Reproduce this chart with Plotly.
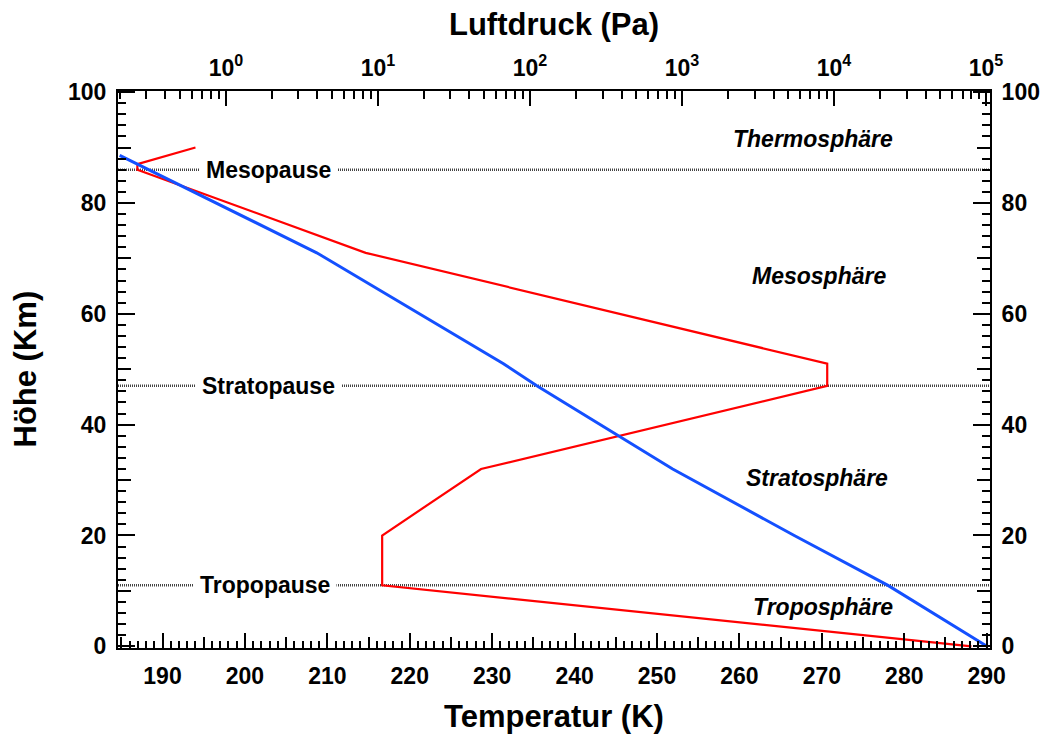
import plotly.graph_objects as go

# ---------------- data ----------------
# temperature profile (K) vs altitude (km)
temp_K = [288.15, 216.65, 216.65, 228.65, 270.65, 270.65, 214.65, 186.95, 186.95, 194.0]
temp_h = [0, 11, 20, 32, 47, 51, 71, 86, 87, 90]
# pressure profile (Pa) vs altitude (km)
pres_Pa = [101325, 22632, 5474.9, 868.0, 110.9, 66.94, 3.956, 0.2]
pres_h = [0, 11, 20, 32, 47, 51, 71, 88.6]

pause_names = ["Tropopause", "Stratopause", "Mesopause"]
pause_h = [11, 47, 86]
pause_label_T = [202.4, 202.8, 202.9]

layer_names = ["Troposphäre", "Stratosphäre", "Mesosphäre", "Thermosphäre"]
layer_T = [270.1, 269.4, 269.7, 268.9]
layer_h = [7.1, 30.4, 66.8, 91.6]

temp_ticks = list(range(190, 291, 10))
temp_mid_ticks = list(range(185, 291, 10))
temp_minor = list(range(185, 291, 1))
pres_ticks = [1, 10, 100, 1000, 10000, 100000]
pres_ticktext = ["10<sup>0</sup>", "10<sup>1</sup>", "10<sup>2</sup>",
                 "10<sup>3</sup>", "10<sup>4</sup>", "10<sup>5</sup>"]
pres_minor = [k * 10 ** n for n in range(-1, 5) for k in range(2, 10)]
h_ticks = list(range(0, 101, 20))
h_mid_ticks = list(range(10, 100, 20))
h_minor = list(range(0, 101, 2))

# ---------------- figure ----------------
FONT = "Liberation Sans"
tickfont = dict(family=FONT, size=23, color="black", weight="bold")
XR = [184.6, 290.4]
YR = [-0.3, 100.2]
LOGR = [-0.71, 5.026]

fig = go.Figure()
fig.add_trace(go.Scatter(x=temp_K, y=temp_h, mode="lines",
                         line=dict(color="#ff0000", width=2.2),
                         xaxis="x", yaxis="y", showlegend=False, hoverinfo="skip"))
fig.add_trace(go.Scatter(x=pres_Pa, y=pres_h, mode="lines",
                         line=dict(color="#1450ff", width=3),
                         xaxis="x2", yaxis="y", showlegend=False, hoverinfo="skip"))
# dummy traces to activate tick-only axes
for xa, ya in [("x3", "y"), ("x", "y2"), ("x", "y3"), ("x", "y4")]:
    fig.add_trace(go.Scatter(x=[None], y=[None], xaxis=xa, yaxis=ya,
                             showlegend=False, hoverinfo="skip"))

common = dict(showgrid=False, zeroline=False, ticks="inside", tickcolor="black",
              tickwidth=2, linecolor="black", linewidth=2, automargin=False)

fig.update_layout(
    width=1041, height=735,
    margin=dict(l=118, r=51, t=91, b=87, autoexpand=False),
    paper_bgcolor="white", plot_bgcolor="white",
    xaxis=dict(range=XR, tickmode="array", tickvals=temp_ticks, ticklen=15,
               showline=True, tickfont=tickfont, ticklabelstandoff=6,
               minor=dict(tickmode="array", tickvals=temp_minor, ticklen=7,
                          tickwidth=2, tickcolor="black", ticks="inside"),
               **common),
    xaxis3=dict(range=XR, overlaying="x", side="bottom", anchor="y",
                tickmode="array", tickvals=temp_mid_ticks, ticklen=11,
                showticklabels=False, showline=False, **common),
    xaxis2=dict(type="log", range=LOGR, overlaying="x", side="top", anchor="y",
                tickmode="array", tickvals=pres_ticks, ticktext=pres_ticktext,
                ticklen=15, showline=True, tickfont=tickfont, ticklabelstandoff=4,
                minor=dict(tickmode="array", tickvals=pres_minor, ticklen=8,
                           tickwidth=2, tickcolor="black", ticks="inside"),
                **common),
    yaxis=dict(range=YR, tickmode="array", tickvals=h_ticks, ticklen=17,
               showline=True, tickfont=tickfont, ticklabelstandoff=5,
               minor=dict(tickmode="array", tickvals=h_minor, ticklen=8,
                          tickwidth=2, tickcolor="black", ticks="inside"),
               **common),
    yaxis3=dict(range=YR, overlaying="y", side="left", anchor="x",
                tickmode="array", tickvals=h_mid_ticks, ticklen=13,
                showticklabels=False, showline=False, **common),
    yaxis2=dict(range=YR, overlaying="y", side="right", anchor="x",
                tickmode="array", tickvals=h_ticks, ticklen=17,
                showline=True, tickfont=tickfont, ticklabelstandoff=5,
                minor=dict(tickmode="array", tickvals=h_minor, ticklen=8,
                           tickwidth=2, tickcolor="black", ticks="inside"),
                **common),
    yaxis4=dict(range=YR, overlaying="y", side="right", anchor="x",
                tickmode="array", tickvals=h_mid_ticks, ticklen=13,
                showticklabels=False, showline=False, **common),
)

labelfont = dict(family=FONT, size=23, color="black", weight="bold")

# pause lines (dotted) with labels
for name, h, t in zip(pause_names, pause_h, pause_label_T):
    fig.add_shape(type="line", xref="paper", x0=0, x1=1, yref="y", y0=h, y1=h,
                  line=dict(color="#444444", width=2.5, dash="1px,1px"), layer="below")
    fig.add_annotation(x=t, y=h, xref="x", yref="y", text=name, showarrow=False,
                       font=labelfont, bgcolor="white", borderpad=6,
                       xanchor="center", yanchor="middle")

# layer labels
for name, t, h in zip(layer_names, layer_T, layer_h):
    fig.add_annotation(x=t, y=h, xref="x", yref="y", text="<i>" + name + "</i>",
                       showarrow=False, font=labelfont,
                       xanchor="center", yanchor="middle")

# axis titles
titlefont = dict(family=FONT, size=31, color="black", weight="bold")
fig.add_annotation(text="Luftdruck (Pa)", xref="paper", yref="paper", x=0.5,
                   y=(648 - 25) / 557, showarrow=False, font=titlefont,
                   xanchor="center", yanchor="middle")
fig.add_annotation(text="Temperatur (K)", xref="paper", yref="paper", x=0.5,
                   y=(648 - 716) / 557, showarrow=False, font=titlefont,
                   xanchor="center", yanchor="middle")
fig.add_annotation(text="Höhe (Km)", xref="paper", yref="paper",
                   x=(25 - 118) / 872, y=0.5, textangle=-90, showarrow=False,
                   font=titlefont, xanchor="center", yanchor="middle")

fig.write_html("out.html")
